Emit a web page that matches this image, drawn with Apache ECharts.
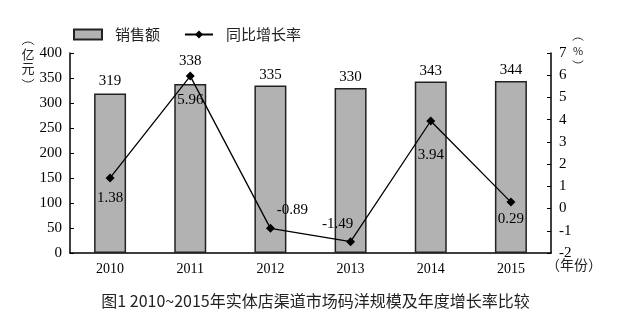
<!DOCTYPE html>
<html>
<head>
<meta charset="utf-8">
<script src="https://cdn.jsdelivr.net/npm/echarts@6/dist/echarts.min.js"></script>
<style>
  html, body { margin: 0; padding: 0; background: #fff; }
  #chart { width: 631px; height: 323px; }
</style>
</head>
<body>
<div id="chart"></div>
<script>
// Years on the category axis
const years = ['2010', '2011', '2012', '2013', '2014', '2015'];
// Sales (亿元)
const sales = [319, 338, 335, 330, 343, 344];
// Year-on-year growth (%)
const growth = [1.38, 5.96, -0.89, -1.49, 3.94, 0.29];

const serif = '"Liberation Serif", "Times New Roman", "Noto Sans CJK SC", serif';
const cjk = '"Noto Sans CJK SC", "Liberation Serif", serif';

// Per-point placement of the growth labels
const growthLabelPos = [
  { position: 'bottom', distance: 8, offset: [0, 0] },
  { position: 'bottom', distance: 12, offset: [0, 0] },
  { position: 'top', distance: 6, offset: [22, 0] },
  { position: 'top', distance: 6, offset: [-13, 0] },
  { position: 'bottom', distance: 22, offset: [0, 0] },
  { position: 'bottom', distance: 5, offset: [0, 0] }
];
// Gap between each bar top and its value label
const salesLabelGap = [5, 15, 3, 3, 3, 3];

// One upright glyph of a vertically stacked axis name
function glyph(ch, x, y, size) {
  return {
    type: 'text', x: x, y: y,
    style: { text: ch, font: size + 'px ' + cjk, fill: '#222', align: 'center', verticalAlign: 'middle' }
  };
}
// Parenthesis of a vertical axis name, drawn as a shallow arc (up = opening, down = closing)
function paren(cx, cy, r, up) {
  const a = 0.7;
  return {
    type: 'arc',
    shape: up
      ? { cx: cx, cy: cy + r, r: r, startAngle: Math.PI + a, endAngle: 2 * Math.PI - a, clockwise: true }
      : { cx: cx, cy: cy - r, r: r, startAngle: a, endAngle: Math.PI - a, clockwise: true },
    style: { stroke: '#333', lineWidth: 1, fill: null }
  };
}

const chart = echarts.init(document.getElementById('chart'), null, { renderer: 'canvas' });

chart.setOption({
  animation: false,
  backgroundColor: '#fff',
  textStyle: { fontFamily: serif, color: '#000' },
  legend: {
    left: 68,
    top: 22,
    itemWidth: 28,
    itemHeight: 10,
    itemGap: 24,
    textStyle: { fontFamily: cjk, fontSize: 15, color: '#222', padding: [0, 0, 0, 8] },
    data: [
      { name: '销售额', icon: 'rect' },
      { name: '同比增长率' }
    ]
  },
  grid: { left: 70, right: 80, top: 53, bottom: 70 },
  xAxis: {
    type: 'category',
    data: years,
    axisLine: { lineStyle: { color: '#000', width: 1.5 } },
    axisTick: { inside: true, length: 5, lineStyle: { color: '#000' } },
    axisLabel: { fontFamily: serif, fontSize: 14, color: '#000', margin: 9 }
  },
  yAxis: [
    {
      type: 'value', min: 0, max: 400, interval: 50,
      splitLine: { show: false },
      axisLine: { show: true, lineStyle: { color: '#000', width: 1.5 } },
      axisTick: { show: true, inside: true, length: 4, lineStyle: { color: '#000' } },
      axisLabel: { fontFamily: serif, fontSize: 15, color: '#000', margin: 8 }
    },
    {
      type: 'value', min: -2, max: 7, interval: 1,
      splitLine: { show: false },
      axisLine: { show: true, lineStyle: { color: '#000', width: 1.5 } },
      axisTick: { show: true, inside: true, length: 4, lineStyle: { color: '#000' } },
      axisLabel: { fontFamily: serif, fontSize: 15, color: '#000', margin: 8 }
    }
  ],
  series: [
    {
      name: '销售额',
      type: 'bar',
      yAxisIndex: 0,
      data: sales.map((v, i) => ({ value: v, label: { distance: salesLabelGap[i] } })),
      barWidth: 32,
      itemStyle: { color: '#b2b2b2', borderColor: '#222', borderWidth: 1.5 },
      label: { show: true, position: 'top', fontFamily: serif, fontSize: 15, color: '#000' },
      z: 1
    },
    {
      name: '同比增长率',
      type: 'line',
      yAxisIndex: 1,
      data: growth.map((v, i) => ({ value: v, label: growthLabelPos[i] })),
      symbol: 'diamond',
      symbolSize: 9,
      lineStyle: { color: '#000', width: 1.3 },
      itemStyle: { color: '#000' },
      label: { show: true, fontFamily: serif, fontSize: 15, color: '#000' },
      z: 3
    }
  ],
  graphic: [
    // left axis name: （亿元）
    paren(28, 42, 8, true),
    glyph('亿', 28, 54, 13),
    glyph('元', 28, 68, 13),
    paren(28, 82, 8, false),
    // right axis name: （%）
    paren(578, 38, 7, true),
    glyph('%', 578, 51, 11),
    paren(578, 63, 7, false),
    {
      type: 'text', left: 546, top: 258,
      style: { text: '（年份）', font: '14px ' + cjk, fill: '#222' }
    },
    {
      type: 'text', left: 'center', top: 293,
      style: { text: '图1 2010~2015年实体店渠道市场码洋规模及年度增长率比较', font: '16px ' + cjk, fill: '#222' }
    }
  ]
});
</script>
</body>
</html>
